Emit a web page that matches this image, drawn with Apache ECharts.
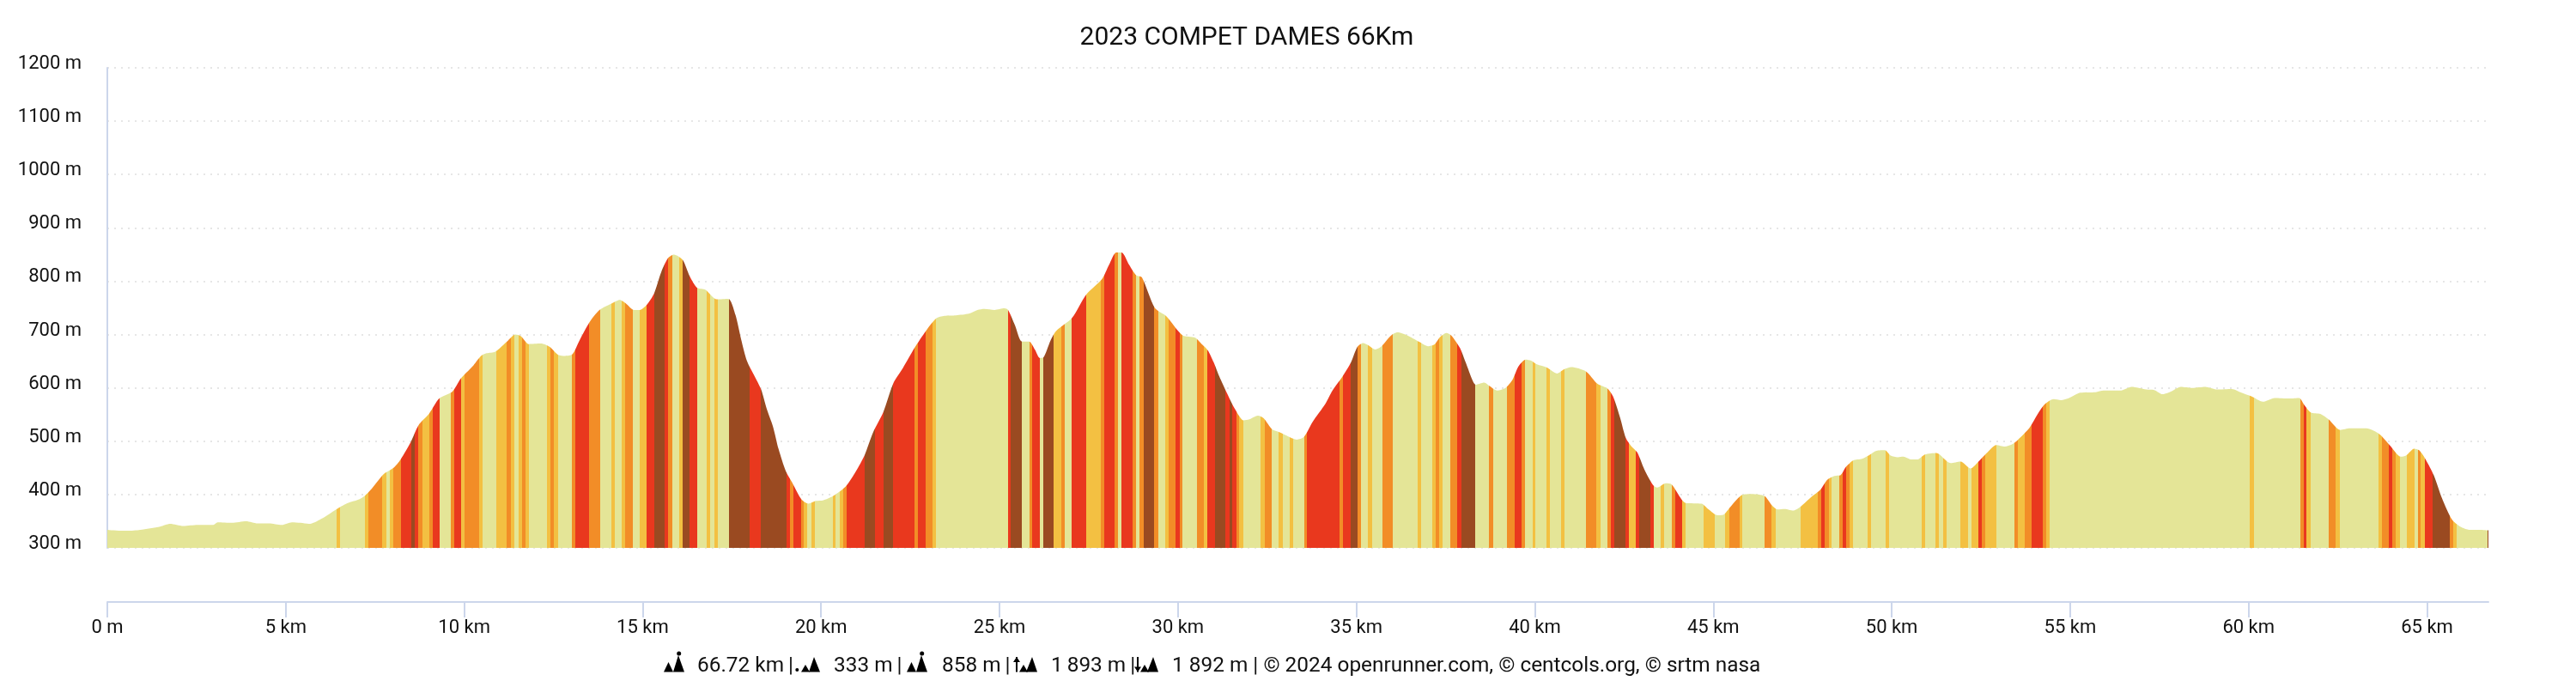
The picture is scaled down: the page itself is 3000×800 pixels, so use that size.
<!DOCTYPE html>
<html>
<head>
<meta charset="utf-8">
<title>2023 COMPET DAMES 66Km</title>
<style>
  html, body { margin: 0; padding: 0; background: #fff; }
  #chart { width: 3000px; height: 800px; }
</style>
<script src="https://cdn.jsdelivr.net/npm/echarts@6/dist/echarts.min.js"></script>
</head>
<body>
<div id="chart"></div>
<script>
// ===== data =====
const chartTitle = '2023 COMPET DAMES 66Km';
const xTickKm = [0, 5, 10, 15, 20, 25, 30, 35, 40, 45, 50, 55, 60, 65];

// profile: distance (km) and altitude (m)
const profileKm = [
  0, 0.44, 0.56, 0.92, 1.48, 1.76, 2.13, 2.53, 2.97, 3.09, 3.49, 3.89, 4.21, 4.53, 4.89, 5.17, 5.41, 5.65, 5.81, 6.09,
  6.46, 6.74, 7.02, 7.22, 7.42, 7.74, 8.02, 8.22, 8.5, 8.72, 9.02, 9.3, 9.67, 9.9, 10.23, 10.47, 10.63, 10.87, 11.23, 11.43,
  11.59, 11.81, 12.15, 12.39, 12.63, 12.83, 13.03, 13.23, 13.51, 13.79, 14.15, 14.36, 14.52, 14.76, 14.92, 15.12, 15.32, 15.52, 15.72, 15.88,
  16.12, 16.32, 16.52, 16.76, 17.08, 17.4, 17.6, 17.76, 17.92, 18.12, 18.32, 18.48, 18.65, 18.81, 19.01, 19.21, 19.45, 19.65, 19.85, 20.05,
  20.33, 20.69, 20.98, 21.22, 21.46, 21.74, 22.02, 22.3, 22.62, 22.94, 23.22, 23.46, 23.78, 24.14, 24.38, 24.58, 24.86, 25.14, 25.24, 25.43,
  25.63, 25.83, 25.99, 26.13, 26.23, 26.43, 26.59, 27.03, 27.43, 27.87, 28.07, 28.27, 28.42, 28.63, 28.83, 28.99, 29.35, 29.68, 30.12, 30.48,
  30.68, 30.84, 31, 31.16, 31.36, 31.6, 31.84, 32, 32.24, 32.4, 32.64, 32.84, 33.09, 33.33, 33.53, 33.77, 34.13, 34.33, 34.61, 34.85,
  35.03, 35.19, 35.33, 35.53, 35.69, 35.97, 36.15, 36.41, 36.77, 37.01, 37.18, 37.34, 37.52, 37.66, 37.9, 38.06, 38.26, 38.34, 38.58, 38.74,
  38.94, 39.18, 39.38, 39.54, 39.74, 39.9, 40.06, 40.34, 40.62, 40.82, 41.02, 41.43, 41.75, 42.03, 42.19, 42.39, 42.55, 42.71, 42.87, 43.07,
  43.31, 43.43, 43.67, 43.83, 44.11, 44.23, 44.67, 44.87, 45.12, 45.28, 45.48, 45.8, 46.08, 46.44, 46.64, 46.8, 47, 47.24, 47.44, 47.76,
  48, 48.2, 48.4, 48.56, 48.72, 48.92, 49.17, 49.37, 49.57, 49.81, 49.97, 50.17, 50.33, 50.53, 50.73, 50.93, 51.25, 51.65, 51.93, 52.21,
  52.45, 52.65, 52.93, 53.17, 53.37, 53.54, 53.86, 54.1, 54.3, 54.54, 54.74, 54.97, 55.29, 55.71, 55.94, 56.4, 56.72, 57.13, 57.36, 57.59,
  57.82, 58.1, 58.42, 58.79, 59.11, 59.53, 59.8, 60.08, 60.4, 60.73, 61.14, 61.42, 61.55, 61.74, 62.01, 62.24, 62.57, 62.84, 63.3, 63.67,
  63.95, 64.27, 64.41, 64.64, 64.78, 64.96, 65.19, 65.42, 65.7, 65.93, 66.2, 66.48, 66.72
];
const profileEle = [
  334, 332, 332, 334, 340, 345, 341, 343, 343, 348, 347, 350, 346, 346, 343, 348, 347, 345, 348, 358,
  374, 384, 390, 398, 412, 438, 450, 466, 498, 530, 552, 580, 593, 617, 640, 660, 665, 668, 689, 700,
  697, 682, 683, 677, 662, 660, 663, 689, 723, 746, 759, 765, 759, 746, 746, 756, 777, 817, 844, 850,
  840, 809, 788, 784, 766, 767, 737, 691, 651, 624, 597, 560, 528, 485, 444, 420, 391, 383, 388, 389,
  397, 415, 444, 474, 517, 554, 608, 638, 675, 707, 730, 735, 736, 739, 746, 748, 746, 749, 746, 718,
  687, 687, 672, 656, 657, 689, 707, 731, 775, 804, 831, 854, 854, 831, 811, 807, 750, 734, 699, 694,
  681, 670, 648, 621, 592, 560, 539, 541, 548, 543, 522, 517, 509, 503, 508, 536, 570, 595, 621, 648,
  677, 684, 680, 672, 677, 698, 704, 699, 686, 678, 681, 695, 703, 698, 675, 648, 613, 606, 610, 603,
  595, 600, 616, 640, 653, 651, 644, 638, 627, 635, 639, 631, 608, 599, 584, 544, 506, 490, 479, 447,
  418, 413, 421, 419, 391, 384, 383, 372, 361, 362, 377, 399, 401, 397, 380, 372, 373, 370, 377, 396,
  409, 428, 435, 436, 452, 464, 467, 474, 482, 483, 473, 470, 471, 466, 466, 475, 478, 459, 462, 449,
  463, 477, 493, 490, 494, 503, 525, 552, 570, 579, 577, 581, 591, 592, 595, 595, 602, 597, 596, 588,
  593, 602, 600, 602, 597, 598, 591, 584, 574, 581, 580, 581, 569, 554, 551, 541, 521, 524, 524, 513,
  493, 471, 473, 486, 483, 466, 436, 393, 353, 340, 334, 334, 333
];

// slope bands: km where a band starts and its class
// L flat, Y gentle, O medium, R steep, B very steep
const bandStartKm = [
  0, 6.42, 6.52, 7.22, 7.31, 7.7, 7.82, 7.92, 8.02, 8.22, 8.52, 8.62, 8.72, 8.82, 9.02, 9.12, 9.32, 9.62, 9.72, 9.92,
  10.02, 10.43, 10.52, 10.91, 11.2, 11.31, 11.4, 11.52, 11.62, 11.72, 11.81, 12.33, 12.42, 12.52, 12.62, 13.02, 13.11, 13.51, 13.81, 14.12,
  14.22, 14.41, 14.52, 14.72, 14.92, 15.12, 15.32, 15.62, 15.72, 15.82, 16.02, 16.12, 16.32, 16.52, 16.8, 16.9, 17.02, 17.11, 17.42, 18,
  18.32, 19.03, 19.13, 19.23, 19.43, 19.52, 19.61, 19.73, 19.83, 20.32, 20.41, 20.52, 20.61, 20.72, 21.22, 21.52, 21.74, 22.02, 22.62, 22.72,
  22.92, 23.12, 23.22, 25.23, 25.32, 25.63, 25.83, 25.92, 26.12, 26.23, 26.52, 26.73, 26.83, 27.03, 27.43, 27.83, 27.93, 28.23, 28.33, 28.42,
  28.73, 28.83, 28.93, 29.03, 29.33, 29.44, 29.64, 29.73, 29.93, 30.04, 30.13, 30.53, 30.72, 30.82, 31.04, 31.32, 31.44, 31.52, 31.63, 31.72,
  31.83, 32.32, 32.43, 32.63, 32.82, 32.93, 33.13, 33.22, 33.53, 33.62, 34.53, 34.63, 34.83, 35.03, 35.13, 35.33, 35.43, 35.73, 36.01, 36.72,
  36.82, 37.12, 37.22, 37.32, 37.42, 37.62, 37.83, 37.94, 38.32, 38.72, 38.83, 39.23, 39.43, 39.63, 39.73, 39.93, 40.02, 40.33, 40.42, 40.73,
  40.82, 41.43, 41.73, 41.83, 42.03, 42.13, 42.23, 42.53, 42.63, 42.83, 42.93, 43.23, 43.33, 43.53, 43.63, 43.83, 43.93, 44.13, 44.23, 44.73,
  45.04, 45.33, 45.44, 45.73, 45.82, 46.44, 46.64, 46.74, 47.44, 47.94, 48.03, 48.13, 48.23, 48.32, 48.54, 48.63, 48.73, 48.83, 48.92, 49.33,
  49.42, 49.83, 49.93, 50.83, 50.93, 51.23, 51.33, 51.43, 51.53, 51.93, 52.13, 52.24, 52.43, 52.53, 52.62, 52.93, 53.43, 53.54, 53.73, 53.93,
  54.23, 54.33, 54.43, 60.03, 60.14, 61.44, 61.54, 61.63, 61.74, 62.24, 62.44, 62.55, 63.63, 63.74, 63.93, 64.03, 64.13, 64.23, 64.43, 64.64,
  64.74, 64.83, 64.93, 65.15, 65.64, 65.74, 65.84, 66.7
];
const bandClass = [
  'L','Y','L','Y','O','Y','L','Y','O','R','B','R','O','Y','O','R','L','O','R','Y',
  'O','Y','L','Y','O','Y','L','Y','O','Y','L','Y','O','Y','L','O','R','O','L','Y',
  'L','Y','O','L','Y','R','B','R','O','L','Y','B','R','L','Y','L','Y','L','B','R',
  'B','R','O','R','O','Y','L','Y','L','Y','L','Y','O','R','B','R','B','R','O','R',
  'O','Y','L','R','B','L','O','R','L','B','Y','O','L','R','Y','O','R','O','L','R',
  'O','L','O','B','O','L','Y','O','R','O','L','O','Y','R','B','R','B','R','O','Y',
  'L','Y','O','L','Y','L','Y','L','O','R','O','R','B','O','L','Y','L','O','L','Y',
  'L','Y','O','Y','L','O','R','B','L','O','L','O','R','O','L','Y','L','Y','L','Y',
  'L','O','Y','L','O','R','B','R','Y','R','B','R','L','Y','L','O','R','Y','L','Y',
  'L','Y','O','Y','L','O','Y','L','Y','O','R','O','Y','L','O','R','O','Y','L','Y',
  'L','Y','L','Y','L','Y','L','Y','L','Y','L','Y','R','O','Y','L','O','Y','O','R',
  'O','Y','L','Y','L','O','R','Y','L','O','Y','L','Y','O','R','O','Y','L','Y','L',
  'O','Y','R','B','O','Y','L','B'
];
const classColors = { L: '#e4e597', Y: '#f3c042', O: '#f28d27', R: '#e9381e', B: '#9a4a21' };

// footer (thin spaces keep the pieces from running into the icons)
const footerParts = ['66.72 km\u2009|', '333 m\u2009|', '858 m\u2009|', '1\u2009893 m\u2009|', '1 892 m | © 2024 openrunner.com, © centcols.org, © srtm nasa'];

// ===== chart =====
const chart = echarts.init(document.getElementById('chart'), null, { renderer: 'canvas' });
const fontFamily = 'Roboto, sans-serif';
const axisColor = '#ccd6eb';

const bandPieces = bandStartKm.map((start, i) => ({
  gte: start,
  lt: i + 1 < bandStartKm.length ? bandStartKm[i + 1] : 70,
  color: classColors[bandClass[i]]
}));

// small mountain pictograms of the footer
function tri(x0, x1, xTop, yTop) {
  return { type: 'polygon', shape: { points: [[x0, 782.5], [xTop, yTop], [x1, 782.5]] }, style: { fill: '#000' } };
}
function dot(x, y, r) {
  return { type: 'circle', shape: { cx: x, cy: y, r: r }, style: { fill: '#000' } };
}
function arrow(x, y0, y1) {
  const dir = y1 > y0 ? 1 : -1;
  return [
    { type: 'line', shape: { x1: x, y1: y0, x2: x, y2: y1 }, style: { stroke: '#000', lineWidth: 2 } },
    { type: 'polygon', shape: { points: [[x - 4, y1 - dir * 6], [x, y1], [x + 4, y1 - dir * 6]] }, style: { fill: '#000' } }
  ];
}
function peaksIcon(x, kind) {
  let parts = [];
  if (kind === 'max') {
    parts = [tri(x, x + 11, x + 5.5, 771), tri(x + 11, x + 24, x + 17, 763), dot(x + 17.7, 761, 2.5)];
  } else if (kind === 'min') {
    parts = [dot(x + 2.3, 780, 2), tri(x + 7, x + 17, x + 12, 774), tri(x + 16, x + 29, x + 22, 765)];
  } else {
    parts = [tri(x + 6, x + 16, x + 11, 774), tri(x + 14, x + 27, x + 21, 765)]
      .concat(kind === 'up' ? arrow(x + 3, 782.5, 765) : arrow(x + 3, 765, 782.5));
  }
  return { type: 'group', silent: true, children: parts };
}
const footerText = [812, 971, 1097, 1224, 1365].map((x, i) => ({
  type: 'text',
  x: x,
  y: 775.5,
  style: { text: footerParts[i], font: '400 24.4px ' + fontFamily, fill: '#111', verticalAlign: 'middle' }
}));

const option = {
  animation: false,
  backgroundColor: '#fff',
  textStyle: { fontFamily: fontFamily },
  title: {
    text: chartTitle,
    left: 1447,
    top: 24,
    textAlign: 'center',
    textStyle: { fontFamily: fontFamily, fontSize: 30, fontWeight: 400, color: '#111' }
  },
  grid: { left: 125, right: 102, top: 79, bottom: 162 },
  xAxis: {
    type: 'value',
    min: 0,
    max: 66.72,
    offset: 63,
    axisLine: { show: true, lineStyle: { color: axisColor, width: 2 } },
    axisTick: { show: true, length: 18, customValues: xTickKm, lineStyle: { color: axisColor, width: 2 } },
    axisLabel: {
      customValues: xTickKm,
      margin: 19,
      fontSize: 22,
      color: '#111',
      formatter: v => (v === 0 ? '0 m' : v + ' km')
    },
    splitLine: { show: false }
  },
  yAxis: {
    type: 'value',
    min: 300,
    max: 1200,
    interval: 100,
    axisLine: { show: true, lineStyle: { color: axisColor, width: 2 } },
    axisTick: { show: false },
    axisLabel: {
      margin: 30,
      fontSize: 22,
      color: '#111',
      verticalAlign: 'bottom',
      lineHeight: 9,
      formatter: v => v + ' m'
    },
    splitLine: { show: true, lineStyle: { color: '#e6e6e6', width: 2, type: [2, 6] } }
  },
  visualMap: {
    show: false,
    type: 'piecewise',
    dimension: 0,
    seriesIndex: 0,
    pieces: bandPieces
  },
  series: [{
    type: 'line',
    data: profileKm.map((km, i) => [km, profileEle[i]]),
    smooth: 0.25,
    symbol: 'none',
    lineStyle: { width: 0 },
    areaStyle: { opacity: 1, origin: 'start' },
    z: 3
  }],
  graphic: footerText.concat([
    peaksIcon(773, 'max'),
    peaksIcon(926, 'min'),
    peaksIcon(1056, 'max'),
    peaksIcon(1181, 'up'),
    peaksIcon(1322, 'down')
  ])
};
chart.setOption(option);
</script>
</body>
</html>
